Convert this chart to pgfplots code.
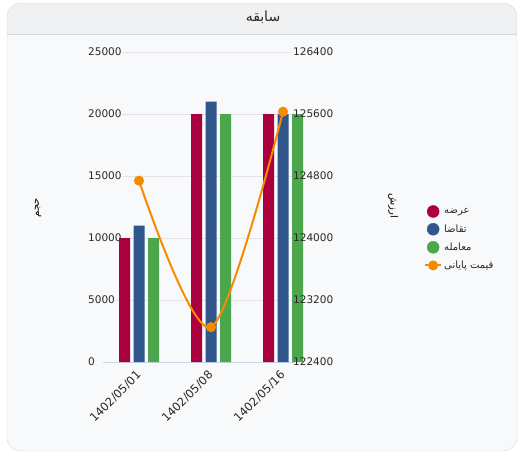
\documentclass[border=0pt]{standalone}
\usepackage{pgfplots}
\pgfplotsset{compat=1.18}
\usepackage{fontspec}
\setmainfont{DejaVu Sans}
\newfontfamily\fa[Script=Arabic]{DejaVu Sans}
\TeXXeTstate=1
\definecolor{cred}{RGB}{172,0,62}
\definecolor{cblue}{RGB}{49,86,140}
\definecolor{cgreen}{RGB}{76,166,76}
\definecolor{corange}{RGB}{245,140,0}
\definecolor{cgrid}{RGB}{228,228,230}
\definecolor{cbase}{RGB}{204,214,235}
\definecolor{cbody}{RGB}{248,249,251}
\definecolor{chead}{RGB}{240,241,243}
\definecolor{cborder}{RGB}{214,216,220}
\definecolor{ctext}{RGB}{40,40,40}
\begin{document}
\begin{tikzpicture}[x=1pt,y=1pt]
\path[use as bounding box] (0,0) rectangle (526,456);
\fill[white] (0,0) rectangle (526,456);
\begin{scope}
\clip[rounded corners=14pt] (7,5) rectangle (517,453);
\fill[cbody] (7,5) rectangle (517,453);
\fill[chead] (7,422) rectangle (517,453);
\end{scope}
\draw[cborder] (7,422) -- (517,422);
\draw[cborder, rounded corners=14pt] (7,5) rectangle (517,453);
\node[font=\fontsize{14}{16}\selectfont\fa, text=ctext] at (263,439) {\beginR سابقه\endR};

\begin{axis}[
  scale only axis, width=216pt, height=310pt,
  at={(103pt,94pt)}, anchor=south west,
  xmin=-0.5, xmax=2.5, ymin=0, ymax=25000,
  axis x line*=bottom, axis y line*=left,
  axis line style={draw=none}, major tick length=0pt,
  scaled y ticks=false,
  ytick={0,5000,10000,15000,20000,25000},
  xtick={0,1,2}, xticklabels={1402/05/01,1402/05/08,1402/05/16},
  xticklabel style={rotate=45, anchor=east, inner sep=0pt, font=\fontsize{11.5}{13}\selectfont, text=ctext},
  yticklabel style={anchor=west, inner sep=0pt, font=\fontsize{10.5}{12}\selectfont, text=ctext,
    /pgf/number format/fixed, /pgf/number format/precision=0, /pgf/number format/1000 sep={}},
  yticklabel shift=15pt,
  xticklabel shift=11pt,
  ybar=3.5pt, bar width=11pt,
  /pgf/number format/assume math mode=true,
  every axis y label/.style={at={(axis description cs:-0.301,0.497)}, rotate=90, anchor=center},
  ylabel={\fontsize{10}{12}\selectfont\fa\beginR حجم\endR},
  clip=false,
]
\draw[cgrid] (axis cs:-0.333,5000) -- (axis cs:2.139,5000);
\draw[cgrid] (axis cs:-0.236,10000) -- (axis cs:2.139,10000);
\draw[cgrid] (axis cs:-0.236,15000) -- (axis cs:2.139,15000);
\draw[cgrid] (axis cs:-0.236,20000) -- (axis cs:2.139,20000);
\draw[cgrid] (axis cs:-0.236,25000) -- (axis cs:2.139,25000);
\draw[cbase] (axis cs:-0.5,0) -- (axis cs:2.167,0);
\addplot[fill=cred, draw=none] coordinates {(0,10000) (1,20000) (2,20000)};
\addplot[fill=cblue, draw=none] coordinates {(0,11000) (1,21000) (2,20000)};
\addplot[fill=cgreen, draw=none] coordinates {(0,10000) (1,20000) (2,20000)};
\end{axis}

\begin{axis}[
  scale only axis, width=216pt, height=310pt,
  at={(103pt,94pt)}, anchor=south west,
  xmin=-0.5, xmax=2.5, ymin=122400, ymax=126400,
  axis y line*=right, axis x line=none,
  axis line style={draw=none}, major tick length=0pt,
  scaled y ticks=false,
  ytick={122400,123200,124000,124800,125600,126400},
  yticklabel style={anchor=west, inner sep=0pt, font=\fontsize{10.5}{12}\selectfont, text=ctext,
    /pgf/number format/fixed, /pgf/number format/precision=0, /pgf/number format/1000 sep={}},
  yticklabel shift=-26pt,
  /pgf/number format/assume math mode=true,
  every axis y label/.style={at={(axis description cs:1.343,0.503)}, rotate=-90, anchor=center},
  ylabel={\fontsize{10}{12}\selectfont\fa\beginR ارزش\endR},
  clip=false,
  legend style={at={(axis description cs:1.486,0.398)}, anchor=west, draw=none, fill=none,
    inner sep=0pt, row sep=5pt, font=\fontsize{10}{12}\selectfont\fa, text=ctext,
    /tikz/every even column/.append style={column sep=4pt}},
  legend cell align=left,
]
\addlegendimage{legend image code/.code={\fill[cred] (8pt,0pt) circle (6pt);}}
\addlegendimage{legend image code/.code={\fill[cblue] (8pt,0pt) circle (6pt);}}
\addlegendimage{legend image code/.code={\fill[cgreen] (8pt,0pt) circle (6pt);}}
\addplot[corange, line width=2pt, smooth, tension=0.5, mark=*, mark size=4pt,
  mark options={draw=none, fill=corange},
  legend image code/.code={\draw[corange, line width=2pt] (0pt,0pt) -- (16pt,0pt); \fill[corange] (8pt,0pt) circle (4pt);}]
  coordinates {(0,124740) (1,122850) (2,125630)};
\legend{\beginR عرضه\endR, \beginR تقاضا\endR, \beginR معامله\endR, \beginR قیمت پایانی\endR}
\end{axis}
\end{tikzpicture}
\end{document}
